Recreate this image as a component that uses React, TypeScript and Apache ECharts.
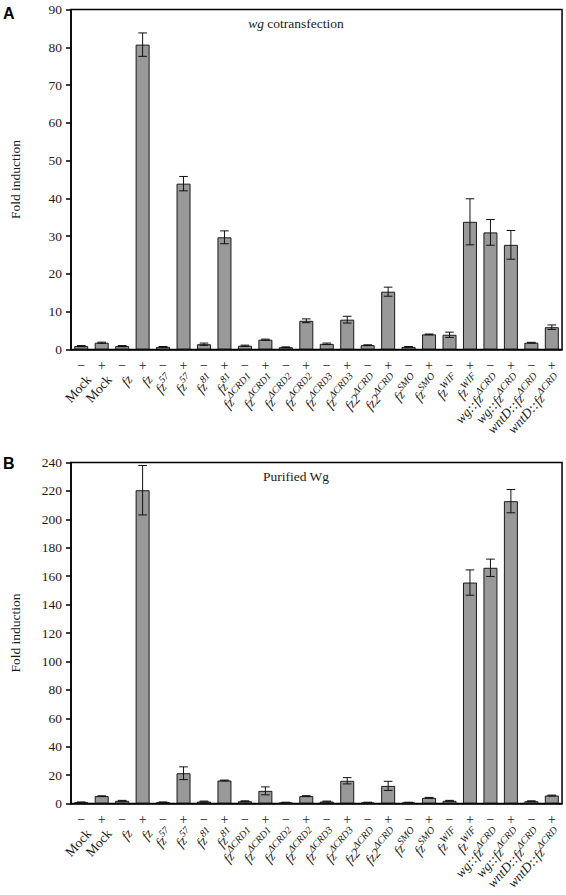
import React, { useEffect, useRef } from "react";
import * as echarts from "echarts";

const signs = ["−", "+", "−", "+", "−", "+", "−", "+", "−", "+", "−", "+", "−", "+", "−", "+", "−", "+", "−", "+", "−", "+", "−", "+"];
const names = [
  "Mock", "Mock", "fz", "fz", "fz^57", "fz^57", "fz^81", "fz^81",
  "fz^ΔCRD1", "fz^ΔCRD1", "fz^ΔCRD2", "fz^ΔCRD2", "fz^ΔCRD3", "fz^ΔCRD3",
  "fz2^ΔCRD", "fz2^ΔCRD", "fz^SMO", "fz^SMO", "fz^WIF", "fz^WIF",
  "wg::fz^ΔCRD", "wg::fz^ΔCRD", "wntD::fz^ΔCRD", "wntD::fz^ΔCRD",
];
const topValues = [0.9, 1.8, 0.9, 80.7, 0.7, 43.9, 1.4, 29.7, 1.0, 2.6, 0.6, 7.6, 1.5, 7.9, 1.15, 15.3, 0.7, 4.0, 3.9, 33.8, 31.0, 27.7, 1.8, 5.9];
const topErrors = [0.15, 0.15, 0.15, 3.1, 0.1, 1.9, 0.3, 1.7, 0.15, 0.15, 0.1, 0.5, 0.2, 0.9, 0.1, 1.2, 0.1, 0.1, 0.7, 6.1, 3.4, 3.8, 0.1, 0.6];
const bottomValues = [0.9, 5.2, 1.9, 220.5, 0.9, 21.3, 1.4, 16.2, 1.6, 8.9, 0.7, 5.2, 1.4, 16.0, 0.7, 12.4, 0.7, 4.0, 1.9, 155.5, 165.9, 212.8, 1.6, 5.6];
const bottomErrors = [0.2, 0.2, 0.3, 17.4, 0.2, 4.5, 0.3, 0.3, 0.3, 2.8, 0.2, 0.3, 0.3, 2.2, 0.2, 3.2, 0.2, 0.3, 0.3, 8.9, 6.1, 8.2, 0.3, 0.3];
const topTicks = { min: 0, max: 90, interval: 10 };
const bottomTicks = { min: 0, max: 240, interval: 20 };

const SERIF = "Liberation Serif, Times New Roman, serif";
const TXT = "#1a1a1a";

function fmtName(s: string) {
  if (s === "Mock") return "{n|Mock}";
  const [base, sup] = s.split("^");
  return sup ? `{i|${base}}{s|${sup}}` : `{i|${base}}`;
}

const richStyles = {
  n: { fontFamily: SERIF, fontSize: 13.5, color: TXT, lineHeight: 17, verticalAlign: "bottom" },
  i: { fontFamily: SERIF, fontSize: 13.5, fontStyle: "italic", color: TXT, lineHeight: 17, verticalAlign: "bottom" },
  s: { fontFamily: SERIF, fontSize: 10, fontStyle: "italic", color: TXT, verticalAlign: "top" },
};

function gridAxes(gridIndex: number) {
  return [
    {
      type: "category",
      gridIndex,
      data: signs,
      axisLine: { lineStyle: { color: "#000", width: 1.5 } },
      axisTick: { alignWithLabel: true, length: 5, lineStyle: { color: "#000", width: 1.5 } },
      axisLabel: { interval: 0, margin: 9, fontFamily: SERIF, fontSize: 14, color: TXT },
    },
    {
      type: "category",
      gridIndex,
      data: names,
      position: "bottom",
      axisLine: { show: false },
      axisTick: { show: false },
      axisLabel: {
        interval: 0,
        rotate: 48,
        margin: 21,
        align: "right",
        verticalAlign: "top",
        color: TXT,
        formatter: (v: string) => fmtName(v),
        rich: richStyles,
      },
    },
  ];
}

function yAxis(gridIndex: number, t: { min: number; max: number; interval: number }) {
  return {
    type: "value",
    gridIndex,
    min: t.min,
    max: t.max,
    interval: t.interval,
    name: "Fold induction",
    nameLocation: "middle",
    nameGap: 49,
    nameTextStyle: { fontFamily: SERIF, fontSize: 13.5, color: TXT },
    splitLine: { show: false },
    axisLine: { show: true, lineStyle: { color: "#000", width: 1.5 } },
    axisTick: { show: true, length: 5, lineStyle: { color: "#000", width: 1.5 } },
    axisLabel: { margin: 9, fontFamily: SERIF, fontSize: 13.5, color: TXT },
  };
}

function errorSeries(values: number[], errors: number[], xAxisIndex: number, yAxisIndex: number) {
  return {
    type: "custom",
    xAxisIndex,
    yAxisIndex,
    z: 10,
    data: values.map((v, i) => [i, v - errors[i], v + errors[i]]),
    renderItem: (_params: any, api: any) => {
      const idx = api.value(0);
      const lo = api.coord([idx, api.value(1)]);
      const hi = api.coord([idx, api.value(2)]);
      const hw = 4.3;
      const st = { stroke: "#111", lineWidth: 1 };
      return {
        type: "group",
        children: [
          { type: "line", shape: { x1: lo[0], y1: lo[1], x2: hi[0], y2: hi[1] }, style: st },
          { type: "line", shape: { x1: lo[0] - hw, y1: lo[1], x2: lo[0] + hw, y2: lo[1] }, style: st },
          { type: "line", shape: { x1: hi[0] - hw, y1: hi[1], x2: hi[0] + hw, y2: hi[1] }, style: st },
        ],
      };
    },
  };
}

function barSeries(values: number[], xAxisIndex: number, yAxisIndex: number) {
  return {
    type: "bar",
    xAxisIndex,
    yAxisIndex,
    data: values,
    barWidth: 14,
    itemStyle: { color: "#999999", borderColor: "#1a1a1a", borderWidth: 1 },
  };
}

export default function App() {
  const ref = useRef<HTMLDivElement>(null);
  useEffect(() => {
    if (!ref.current) return;
    const chart = echarts.init(ref.current, null, { renderer: "svg" });
    chart.setOption({
      animation: false,
      backgroundColor: "#fff",
      grid: [
        { left: 49.5, top: 9.5, width: 513.5, height: 340, show: true, borderColor: "#000", borderWidth: 1.5, containLabel: false },
        { left: 49.5, top: 462.5, width: 513.5, height: 341, show: true, borderColor: "#000", borderWidth: 1.5, containLabel: false },
      ],
      xAxis: [...gridAxes(0), ...gridAxes(1)],
      yAxis: [yAxis(0, topTicks), yAxis(1, bottomTicks)],
      series: [
        barSeries(topValues, 0, 0),
        errorSeries(topValues, topErrors, 0, 0),
        barSeries(bottomValues, 2, 1),
        errorSeries(bottomValues, bottomErrors, 2, 1),
      ],
      graphic: [
        { type: "text", left: 3, top: 5, style: { text: "A", font: "bold 16px Liberation Sans, Arial, sans-serif", fill: "#000" } },
        { type: "text", left: 3, top: 455, style: { text: "B", font: "bold 16px Liberation Sans, Arial, sans-serif", fill: "#000" } },
        {
          type: "text",
          x: 296,
          y: 23,
          style: {
            text: "{i|wg} {n|cotransfection}",
            align: "center",
            verticalAlign: "middle",
            rich: {
              i: { fontFamily: SERIF, fontSize: 13.5, fontStyle: "italic", fill: TXT },
              n: { fontFamily: SERIF, fontSize: 13.5, fill: TXT },
            },
          },
        },
        {
          type: "text",
          x: 296,
          y: 476,
          style: { text: "Purified Wg", align: "center", verticalAlign: "middle", fontFamily: SERIF, fontSize: 13.5, fill: TXT },
        },
      ],
    });
    return () => chart.dispose();
  }, []);
  return <div ref={ref} style={{ position: "absolute", left: 0, top: 0, width: 566, height: 895, background: "#fff" }} />;
}
